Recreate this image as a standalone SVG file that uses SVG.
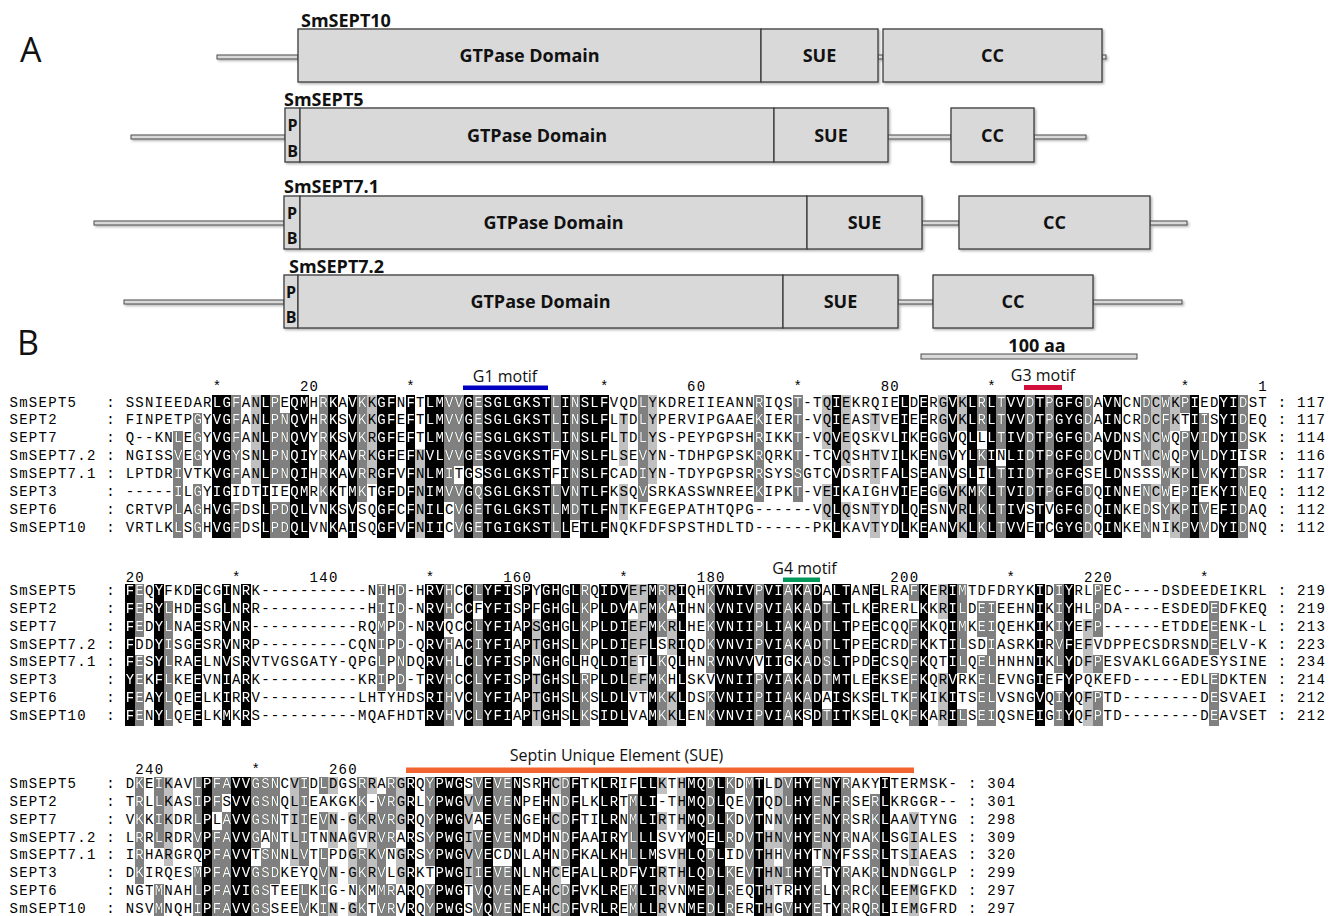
<svg xmlns="http://www.w3.org/2000/svg" xmlns:xlink="http://www.w3.org/1999/xlink" width="1334" height="916" viewBox="0 0 1334 916">
<style>
.seq{font-family:"Liberation Mono","Courier New",monospace;font-size:14px;letter-spacing:1.28px}
.hd{font-family:"Open Sans","Liberation Sans",sans-serif;font-weight:700;font-size:18px;fill:#111}
.pb{font-family:"Open Sans","Liberation Sans",sans-serif;font-weight:700;font-size:16px;fill:#111;text-anchor:middle}
.ctr{text-anchor:middle}
.box{fill:#d9d9d9;stroke:#3c3c3c;stroke-width:1.3}
.ln{fill:#d9d9d9;stroke:#4a4a4a;stroke-width:1}
.mot{font-family:"Open Sans","Liberation Sans",sans-serif;font-size:16px;fill:#111;text-anchor:middle}
.big{font-family:"Open Sans","Liberation Sans",sans-serif;font-size:34px;fill:#111}
.rul{fill:#000}
</style>
<defs>
<filter id="sh" x="-5%" y="-10%" width="110%" height="130%"><feDropShadow dx="1.5" dy="1.5" stdDeviation="0.8" flood-color="#000" flood-opacity="0.3"/></filter>
<g id="b1k" transform="translate(125 395) scale(9.68 17.86)" shape-rendering="crispEdges">
<rect x="9" y="0" width="2" height="8"/><rect x="14" y="0" width="1" height="8"/><rect x="17" y="0" width="2" height="8"/><rect x="21" y="0" width="1" height="8"/><rect x="23" y="0" width="1" height="8"/><rect x="26" y="0" width="2" height="8"/><rect x="29" y="0" width="1" height="8"/><rect x="31" y="0" width="2" height="8"/><rect x="35" y="0" width="1" height="8"/><rect x="37" y="0" width="7" height="8"/><rect x="45" y="0" width="1" height="8"/><rect x="47" y="0" width="3" height="8"/><rect x="73" y="0" width="1" height="8"/><rect x="80" y="0" width="1" height="8"/><rect x="82" y="0" width="1" height="8"/><rect x="85" y="0" width="1" height="8"/><rect x="87" y="0" width="1" height="8"/><rect x="89" y="0" width="1" height="8"/><rect x="91" y="0" width="2" height="8"/><rect x="94" y="0" width="1" height="8"/><rect x="96" y="0" width="3" height="8"/><rect x="101" y="0" width="2" height="8"/><rect x="110" y="0" width="1" height="8"/><rect x="113" y="0" width="2" height="8"/>
</g>
<g id="b1d" transform="translate(125 395) scale(9.68 17.86)" shape-rendering="crispEdges">
<rect x="5" y="2" width="1" height="6"/>
<rect x="7" y="1" width="1" height="3"/><rect x="7" y="5" width="1" height="3"/>
<rect x="11" y="0" width="1" height="5"/><rect x="11" y="6" width="1" height="2"/>
<rect x="15" y="0" width="1" height="5"/><rect x="15" y="6" width="1" height="2"/>
<rect x="16" y="1" width="1" height="4"/><rect x="16" y="6" width="1" height="2"/>
<rect x="20" y="0" width="1" height="6"/>
<rect x="24" y="0" width="1" height="6"/>
<rect x="33" y="0" width="1" height="6"/>
<rect x="34" y="0" width="1" height="4"/><rect x="34" y="5" width="1" height="3"/>
<rect x="36" y="0" width="1" height="4"/><rect x="36" y="5" width="1" height="3"/>
<rect x="44" y="0" width="1" height="3"/><rect x="44" y="5" width="1" height="3"/>
<rect x="46" y="0" width="1" height="7"/>
<rect x="53" y="0" width="1" height="6"/>
<rect x="65" y="0" width="1" height="6"/>
<rect x="69" y="0" width="1" height="6"/>
<rect x="88" y="0" width="1" height="2"/><rect x="88" y="3" width="1" height="1"/><rect x="88" y="5" width="1" height="3"/>
<rect x="90" y="0" width="1" height="3"/><rect x="90" y="4" width="1" height="4"/>
<rect x="93" y="0" width="1" height="6"/>
<rect x="95" y="0" width="1" height="6"/>
<rect x="99" y="0" width="1" height="4"/><rect x="99" y="5" width="1" height="3"/>
<rect x="105" y="0" width="1" height="4"/><rect x="105" y="5" width="1" height="3"/>
<rect x="107" y="0" width="1" height="7"/>
<rect x="109" y="0" width="1" height="1"/><rect x="109" y="2" width="1" height="6"/>
<rect x="111" y="1" width="1" height="4"/><rect x="111" y="6" width="1" height="2"/>
<rect x="115" y="0" width="1" height="3"/><rect x="115" y="4" width="1" height="4"/>
</g>
<g id="b1l" transform="translate(125 395) scale(9.68 17.86)" shape-rendering="crispEdges">
<rect x="13" y="0" width="1" height="5"/>
<rect x="25" y="0" width="1" height="5"/>
<rect x="30" y="3" width="1" height="5"/>
<rect x="51" y="1" width="1" height="3"/><rect x="51" y="5" width="1" height="2"/>
<rect x="54" y="0" width="1" height="5"/>
<rect x="72" y="0" width="1" height="3"/><rect x="72" y="5" width="1" height="2"/>
<rect x="74" y="0" width="1" height="4"/><rect x="74" y="6" width="1" height="1"/>
<rect x="77" y="1" width="1" height="1"/><rect x="77" y="3" width="1" height="2"/><rect x="77" y="6" width="1" height="2"/>
<rect x="84" y="0" width="1" height="4"/><rect x="84" y="5" width="1" height="1"/>
<rect x="86" y="0" width="1" height="2"/><rect x="86" y="5" width="1" height="3"/>
<rect x="106" y="0" width="1" height="4"/><rect x="106" y="5" width="1" height="1"/>
<rect x="108" y="0" width="1" height="2"/><rect x="108" y="4" width="1" height="1"/><rect x="108" y="6" width="1" height="2"/>
</g>
<g id="b2k" transform="translate(125 583.5) scale(9.68 17.86)" shape-rendering="crispEdges">
<rect x="0" y="0" width="1" height="8"/><rect x="3" y="0" width="1" height="8"/><rect x="7" y="0" width="1" height="8"/><rect x="10" y="0" width="1" height="8"/><rect x="12" y="0" width="1" height="8"/><rect x="31" y="0" width="2" height="8"/><rect x="35" y="0" width="1" height="8"/><rect x="37" y="0" width="3" height="8"/><rect x="41" y="0" width="1" height="8"/><rect x="43" y="0" width="2" height="8"/><rect x="46" y="0" width="1" height="8"/><rect x="49" y="0" width="3" height="8"/><rect x="54" y="0" width="1" height="8"/><rect x="57" y="0" width="1" height="8"/><rect x="61" y="0" width="4" height="8"/><rect x="66" y="0" width="2" height="8"/><rect x="69" y="0" width="1" height="8"/><rect x="71" y="0" width="1" height="8"/><rect x="73" y="0" width="2" height="8"/><rect x="77" y="0" width="1" height="8"/><rect x="82" y="0" width="1" height="8"/><rect x="85" y="0" width="1" height="8"/><rect x="94" y="0" width="1" height="8"/><rect x="97" y="0" width="1" height="8"/>
</g>
<g id="b2d" transform="translate(125 583.5) scale(9.68 17.86)" shape-rendering="crispEdges">
<rect x="1" y="0" width="1" height="3"/><rect x="1" y="4" width="1" height="4"/>
<rect x="4" y="1" width="1" height="7"/>
<rect x="26" y="0" width="1" height="6"/>
<rect x="28" y="0" width="1" height="6"/>
<rect x="33" y="0" width="1" height="2"/><rect x="33" y="3" width="1" height="5"/>
<rect x="36" y="0" width="1" height="1"/><rect x="36" y="2" width="1" height="6"/>
<rect x="47" y="0" width="1" height="4"/><rect x="47" y="5" width="1" height="3"/>
<rect x="55" y="0" width="1" height="3"/><rect x="55" y="4" width="1" height="4"/>
<rect x="60" y="0" width="1" height="5"/><rect x="60" y="6" width="1" height="2"/>
<rect x="65" y="0" width="1" height="4"/><rect x="65" y="5" width="1" height="3"/>
<rect x="68" y="0" width="1" height="4"/><rect x="68" y="5" width="1" height="3"/>
<rect x="70" y="0" width="1" height="7"/>
<rect x="72" y="1" width="1" height="5"/><rect x="72" y="7" width="1" height="1"/>
<rect x="81" y="0" width="1" height="1"/><rect x="81" y="2" width="1" height="6"/>
<rect x="86" y="0" width="1" height="5"/><rect x="86" y="7" width="1" height="1"/>
<rect x="88" y="1" width="1" height="2"/><rect x="88" y="4" width="1" height="4"/>
<rect x="89" y="1" width="1" height="7"/>
<rect x="96" y="0" width="1" height="5"/><rect x="96" y="6" width="1" height="2"/>
<rect x="100" y="0" width="1" height="3"/><rect x="100" y="4" width="1" height="1"/><rect x="100" y="6" width="1" height="2"/>
<rect x="112" y="1" width="1" height="3"/><rect x="112" y="5" width="1" height="3"/>
</g>
<g id="b2l" transform="translate(125 583.5) scale(9.68 17.86)" shape-rendering="crispEdges">
<rect x="42" y="2" width="1" height="2"/><rect x="42" y="5" width="1" height="3"/>
<rect x="52" y="0" width="1" height="1"/><rect x="52" y="2" width="1" height="4"/>
<rect x="53" y="0" width="1" height="4"/><rect x="53" y="5" width="1" height="1"/>
<rect x="56" y="0" width="1" height="1"/><rect x="56" y="2" width="1" height="2"/><rect x="56" y="6" width="1" height="2"/>
<rect x="84" y="0" width="1" height="2"/><rect x="84" y="5" width="1" height="3"/>
<rect x="99" y="2" width="1" height="3"/><rect x="99" y="6" width="1" height="2"/>
</g>
<g id="b3k" transform="translate(125 776.5) scale(9.68 17.86)" shape-rendering="crispEdges">
<rect x="8" y="0" width="1" height="8"/><rect x="11" y="0" width="2" height="8"/><rect x="29" y="0" width="1" height="8"/><rect x="32" y="0" width="3" height="8"/><rect x="37" y="0" width="1" height="8"/><rect x="40" y="0" width="1" height="8"/><rect x="43" y="0" width="1" height="8"/><rect x="46" y="0" width="1" height="8"/><rect x="49" y="0" width="2" height="8"/><rect x="53" y="0" width="2" height="8"/><rect x="58" y="0" width="2" height="8"/><rect x="61" y="0" width="1" height="8"/><rect x="65" y="0" width="1" height="8"/><rect x="69" y="0" width="2" height="8"/><rect x="73" y="0" width="1" height="8"/><rect x="78" y="0" width="1" height="8"/>
</g>
<g id="b3d" transform="translate(125 776.5) scale(9.68 17.86)" shape-rendering="crispEdges">
<rect x="1" y="0" width="1" height="6"/>
<rect x="3" y="0" width="1" height="4"/><rect x="3" y="6" width="1" height="2"/>
<rect x="7" y="0" width="1" height="4"/><rect x="7" y="5" width="1" height="3"/>
<rect x="9" y="0" width="1" height="2"/><rect x="9" y="3" width="1" height="5"/>
<rect x="10" y="0" width="1" height="1"/><rect x="10" y="2" width="1" height="6"/>
<rect x="13" y="0" width="1" height="4"/><rect x="13" y="5" width="1" height="3"/>
<rect x="14" y="0" width="1" height="3"/><rect x="14" y="4" width="1" height="4"/>
<rect x="15" y="0" width="1" height="6"/>
<rect x="18" y="0" width="1" height="5"/><rect x="18" y="6" width="1" height="2"/>
<rect x="20" y="0" width="1" height="1"/><rect x="20" y="2" width="1" height="1"/><rect x="20" y="4" width="1" height="4"/>
<rect x="24" y="0" width="1" height="3"/><rect x="24" y="4" width="1" height="4"/>
<rect x="26" y="1" width="1" height="7"/>
<rect x="27" y="0" width="1" height="4"/><rect x="27" y="6" width="1" height="2"/>
<rect x="31" y="0" width="1" height="5"/><rect x="31" y="6" width="1" height="2"/>
<rect x="36" y="0" width="1" height="2"/><rect x="36" y="3" width="1" height="5"/>
<rect x="38" y="0" width="2" height="4"/><rect x="38" y="5" width="2" height="3"/>
<rect x="45" y="0" width="1" height="5"/><rect x="45" y="6" width="1" height="2"/>
<rect x="52" y="1" width="1" height="4"/><rect x="52" y="6" width="1" height="2"/>
<rect x="60" y="0" width="1" height="3"/><rect x="60" y="4" width="1" height="4"/>
<rect x="62" y="0" width="1" height="1"/><rect x="62" y="2" width="1" height="2"/><rect x="62" y="5" width="1" height="3"/>
<rect x="64" y="0" width="1" height="6"/>
<rect x="68" y="0" width="1" height="6"/><rect x="68" y="7" width="1" height="1"/>
<rect x="71" y="0" width="1" height="4"/><rect x="71" y="5" width="1" height="3"/>
<rect x="74" y="0" width="1" height="4"/><rect x="74" y="5" width="1" height="3"/>
<rect x="77" y="1" width="1" height="7"/>
</g>
<g id="b3l" transform="translate(125 776.5) scale(9.68 17.86)" shape-rendering="crispEdges">
<rect x="4" y="0" width="1" height="5"/>
<rect x="17" y="0" width="1" height="5"/>
<rect x="21" y="0" width="1" height="1"/><rect x="21" y="2" width="1" height="2"/><rect x="21" y="5" width="1" height="1"/><rect x="21" y="7" width="1" height="1"/>
<rect x="23" y="2" width="1" height="4"/><rect x="23" y="7" width="1" height="1"/>
<rect x="25" y="0" width="1" height="1"/><rect x="25" y="2" width="1" height="4"/>
<rect x="28" y="0" width="1" height="3"/><rect x="28" y="4" width="1" height="2"/>
<rect x="35" y="1" width="1" height="5"/>
<rect x="44" y="0" width="1" height="1"/><rect x="44" y="2" width="1" height="1"/><rect x="44" y="5" width="1" height="3"/>
<rect x="55" y="0" width="1" height="1"/><rect x="55" y="2" width="1" height="1"/><rect x="55" y="5" width="1" height="3"/>
<rect x="57" y="0" width="1" height="3"/><rect x="57" y="4" width="1" height="2"/>
<rect x="66" y="3" width="1" height="5"/>
<rect x="67" y="0" width="1" height="4"/><rect x="67" y="5" width="1" height="1"/>
<rect x="72" y="0" width="1" height="5"/>
<rect x="81" y="2" width="1" height="3"/><rect x="81" y="6" width="1" height="2"/>
</g>
<mask id="wm" maskUnits="userSpaceOnUse" x="0" y="0" width="1334" height="916">
<use xlink:href="#b1k" href="#b1k" fill="#fff"/><use xlink:href="#b1d" href="#b1d" fill="#fff"/>
<use xlink:href="#b2k" href="#b2k" fill="#fff"/><use xlink:href="#b2d" href="#b2d" fill="#fff"/>
<use xlink:href="#b3k" href="#b3k" fill="#fff"/><use xlink:href="#b3d" href="#b3d" fill="#fff"/>
</mask>
<g id="seqtext" class="seq">
<text x="9.48" y="406.5">SmSEPT5</text><text x="106.28" y="406.5">: SSNIEEDARLGFANLPEQMHRKAVKKGFNFTLMVVGESGLGKSTLINSLFVQDLYKDREIIEANNRIQST-TQIEKRQIELDERGVKLRLTVVDTPGFGDAVNCNDCWKPIEDYIDST : 117</text>
<text x="9.48" y="424.36">SEPT2</text><text x="106.28" y="424.36">: FINPETPGYVGFANLPNQVHRKSVKKGFEFTLMVVGESGLGKSTLINSLFLTDLYPERVIPGAAEKIERT-VQIEASTVEIEERGVKLRLTVVDTPGYGDAINCRDCFKTIISYIDEQ : 117</text>
<text x="9.48" y="442.22">SEPT7</text><text x="106.28" y="442.22">: Q--KNLEGYVGFANLPNQVYRKSVKRGFEFTLMVVGESGLGKSTLINSLFLTDLYS-PEYPGPSHRIKKT-VQVEQSKVLIKEGGVQLLLTIVDTPGFGDAVDNSNCWQPVIDYIDSK : 114</text>
<text x="9.48" y="460.08">SmSEPT7.2</text><text x="106.28" y="460.08">: NGISSVEGYVGYSNLPNQIYRKAVRKGFEFNVLVVGESGVGKSTFVNSLFLSEVYN-TDHPGPSKRQRKT-TCVQSHTVILKENGVYLKINLIDTPGFGDCVDNTNCWQPVLDYIISR : 116</text>
<text x="9.48" y="477.94">SmSEPT7.1</text><text x="106.28" y="477.94">: LPTDRIVTKVGFANLPNQIHRKAVRRGFVFNLMITGSSGLGKSTFINSLFCADIYN-TDYPGPSRRSYSSGTCVDSRTFALSEANVSLILTIIDTPGFGSELDNSSSWKPLVKYIDSR : 117</text>
<text x="9.48" y="495.8">SEPT3</text><text x="106.28" y="495.8">: -----ILGYIGIDTIIEQMRKKTMKTGFDFNIMVVGQSGLGKSTLVNTLFKSQVSRKASSWNREEKIPKT-VEIKAIGHVIEEGGVKMKLTVIDTPGFGDQINNENCWEPIEKYINEQ : 112</text>
<text x="9.48" y="513.66">SEPT6</text><text x="106.28" y="513.66">: CRTVPLAGHVGFDSLPDQLVNKSVSQGFCFNILCVGETGLGKSTLMDTLFNTKFEGEPATHTQPG------VQLQSNTYDLQESNVRLKLTIVSTVGFGDQINKEDSYKPIVEFIDAQ : 112</text>
<text x="9.48" y="531.52">SmSEPT10</text><text x="106.28" y="531.52">: VRTLKLSGHVGFDSLPDQLVNKAISQGFVFNIICVGETGIGKSTLLETLFNQKFDFSPSTHDLTD------PKLKAVTYDLKEANVKLKLTVVETCGYGDQINKENNIKPVVDYIDNQ : 112</text>
<text x="9.48" y="595">SmSEPT5</text><text x="106.28" y="595">: FEQYFKDECGINRK-----------NIHD-HRVHCCLYFISPYGHGLRQIDVEFMRRIQHKVNIVPVIAKADALTANELRAFKERIMTDFDRYKIDIYRLPEC----DSDEEDEIKRL : 219</text>
<text x="9.48" y="612.86">SEPT2</text><text x="106.28" y="612.86">: FERYLHDESGLNRR-----------HIID-NRVHCCFYFISPFGHGLKPLDVAFMKAIHNKVNIVPVIAKADTLTLKERERLKKRILDEIEEHNIKIYHLPDA----ESDEDEDFKEQ : 219</text>
<text x="9.48" y="630.72">SEPT7</text><text x="106.28" y="630.72">: FEDYLNAESRVNR-----------RQMPD-NRVQCCLYFIAPSGHGLKPLDIEFMKRLHEKVNIIPLIAKADTLTPEECQQFKKQIMKEIQEHKIKIYEFP------ETDDEEENK-L : 213</text>
<text x="9.48" y="648.58">SmSEPT7.2</text><text x="106.28" y="648.58">: FDDYISGESRVNRP---------CQNIPD-QRVHACIYFIAPTGHSLKPLDIEFLSRIQDKVNVIPVIAKADTLTPEECRDFKKTILSDIASRKIRVFEFVDPPECSDRSNDEELV-K : 223</text>
<text x="9.48" y="666.44">SmSEPT7.1</text><text x="106.28" y="666.44">: FESYLRAELNVSRVTVGSGATY-QPGLPNDQRVHLCLYFISPNGHGLHQLDIETLKQLHNRVNVVVIIGKADSLTPDECSQFKQTILQELHNHNIKLYDFPESVAKLGGADESYSINE : 234</text>
<text x="9.48" y="684.3">SEPT3</text><text x="106.28" y="684.3">: YEKFLKEEVNIARK----------KRIPD-TRVHCCLYFISPTGHSLRPLDLEFMKHLSKVVNIIPVIAKADTMTLEEKSEFKQRVRKELEVNGIEFYPQKEFD-----EDLEDKTEN : 214</text>
<text x="9.48" y="702.16">SEPT6</text><text x="106.28" y="702.16">: FEAYLQEELKIRRV----------LHTYHDSRIHVCLYFIAPTGHSLKSLDLVTMKKLDSKVNIIPIIAKADAISKSELTKFKIKITSELVSNGVQIYQFPTD--------DESVAEI : 212</text>
<text x="9.48" y="720.02">SmSEPT10</text><text x="106.28" y="720.02">: FENYLQEELKMKRS----------MQAFHDTRVHVCLYFIAPTGHSLKSIDLVAMKKLENKVNVIPVIAKSDTITKSELQKFKARILSEIQSNEIGIYQFPTD--------DEAVSET : 212</text>
<text x="9.48" y="788">SmSEPT5</text><text x="106.28" y="788">: DKEIKAVLPFAVVGSNCVIDLDGSRRARGRQYPWGSVEVENSRHCDFTKLRIFLLKTHMQDLKDMTLDVHYENYRAKYITERMSK- : 304</text>
<text x="9.48" y="805.86">SEPT2</text><text x="106.28" y="805.86">: TRLLKASIPFSVVGSNQLIEAKGKK-VRGRLYPWGVVEVENPEHNDFLKLRTMLI-THMQDLQEVTQDLHYENFRSERLKRGGR-- : 301</text>
<text x="9.48" y="823.72">SEPT7</text><text x="106.28" y="823.72">: VKKIKDRLPLAVVGSNTIIEVN-GKRVRGRQYPWGVAEVENGEHCDFTILRNMLIRTHMQDLKDVTNNVHYENYRSRKLAAVTYNG : 298</text>
<text x="9.48" y="841.58">SmSEPT7.2</text><text x="106.28" y="841.58">: LRRLRDRVPFAVVGANTLITNNAGVRVRARSYPWGIVEVENMDHNDFAAIRYLLLSVYMQELRDVTHNVHYENYRNAKLSGIALES : 309</text>
<text x="9.48" y="859.44">SmSEPT7.1</text><text x="106.28" y="859.44">: IRHARGRQPFAVVTSNNLVTLPDGRKVNGRSYPWGVVECDNLAHNDFKALKHLLMSVHLQDLIDVTHHVHYTNYFSSRLTSIAEAS : 320</text>
<text x="9.48" y="877.3">SEPT3</text><text x="106.28" y="877.3">: DKIRQESMPFAVVGSDKEYQVN-GKRVLGRKTPWGIIEVENLNHCEFALLRDFVIRTHLQDLKEVTHNIHYETYRAKRLNDNGGLP : 299</text>
<text x="9.48" y="895.16">SEPT6</text><text x="106.28" y="895.16">: NGTMNAHLPFAVIGSTEELKIG-NKMMRARQYPWGTVQVENEAHCDFVKLREMLIRVNMEDLREQTHTRHYELYRRCKLEEMGFKD : 297</text>
<text x="9.48" y="913.02">SmSEPT10</text><text x="106.28" y="913.02">: NSVMNQHIPFAVVGSSEEVKIN-GKTVRVRQYPWGSVQVENENHCDFVRLREMLLRVNMEDLRERTHGVHYETYRRQRLIEMGFRD : 297</text>
</g>
</defs>
<rect x="0" y="0" width="1334" height="916" fill="#fff"/>

<text class="big" x="20" y="62">A</text>
<text class="big" x="17" y="355">B</text>

<g id="smsept10">
<text class="hd" x="301" y="27">SmSEPT10</text>
<g filter="url(#sh)">
<rect class="ln" x="217" y="55" width="81" height="4"/>
<rect class="ln" x="878" y="55" width="5" height="4"/>
<rect class="ln" x="1102" y="55" width="4" height="4"/>
<rect class="box" x="298" y="29" width="463" height="53"/>
<rect class="box" x="761" y="29" width="117" height="53"/>
<rect class="box" x="883" y="29" width="219" height="53"/>
</g>
<text class="hd ctr" x="529.5" y="62">GTPase Domain</text>
<text class="hd ctr" x="819.5" y="62">SUE</text>
<text class="hd ctr" x="992.5" y="62">CC</text>
</g>

<g id="smsept5">
<text class="hd" x="284" y="106">SmSEPT5</text>
<g filter="url(#sh)">
<rect class="ln" x="131" y="135" width="154" height="4"/>
<rect class="ln" x="888" y="135" width="63" height="4"/>
<rect class="ln" x="1034" y="135" width="52" height="4"/>
<rect class="box" x="285" y="108" width="15" height="54"/>
<rect class="box" x="300" y="108" width="474" height="54"/>
<rect class="box" x="774" y="108" width="114" height="54"/>
<rect class="box" x="951" y="108" width="83" height="54"/>
</g>
<text class="pb" x="292.5" y="131">P</text>
<text class="pb" x="292.5" y="157">B</text>
<text class="hd ctr" x="537" y="141.5">GTPase Domain</text>
<text class="hd ctr" x="831" y="141.5">SUE</text>
<text class="hd ctr" x="992.5" y="141.5">CC</text>
</g>

<g id="smsept71">
<text class="hd" x="284" y="193">SmSEPT7.1</text>
<g filter="url(#sh)">
<rect class="ln" x="94" y="221" width="190" height="4"/>
<rect class="ln" x="922" y="221" width="37" height="4"/>
<rect class="ln" x="1150" y="221" width="37" height="4"/>
<rect class="box" x="284" y="196" width="16" height="53"/>
<rect class="box" x="300" y="196" width="507" height="53"/>
<rect class="box" x="807" y="196" width="115" height="53"/>
<rect class="box" x="959" y="196" width="191" height="53"/>
</g>
<text class="pb" x="292" y="219">P</text>
<text class="pb" x="292" y="244">B</text>
<text class="hd ctr" x="553.5" y="229">GTPase Domain</text>
<text class="hd ctr" x="864.5" y="229">SUE</text>
<text class="hd ctr" x="1054.5" y="229">CC</text>
</g>

<g id="smsept72">
<text class="hd" x="289" y="273">SmSEPT7.2</text>
<g filter="url(#sh)">
<rect class="ln" x="124" y="300" width="160" height="4"/>
<rect class="ln" x="898" y="300" width="35" height="4"/>
<rect class="ln" x="1093" y="300" width="89" height="4"/>
<rect class="box" x="284" y="275" width="14" height="53"/>
<rect class="box" x="298" y="275" width="485" height="53"/>
<rect class="box" x="783" y="275" width="115" height="53"/>
<rect class="box" x="933" y="275" width="160" height="53"/>
</g>
<text class="pb" x="291" y="298">P</text>
<text class="pb" x="291" y="323">B</text>
<text class="hd ctr" x="540.5" y="308">GTPase Domain</text>
<text class="hd ctr" x="840.5" y="308">SUE</text>
<text class="hd ctr" x="1013" y="308">CC</text>
</g>

<g id="scalebar">
<text class="hd ctr" x="1037" y="352">100 aa</text>
<rect class="ln" x="921" y="354" width="216" height="5"/>
</g>

<use xlink:href="#b1l" href="#b1l" fill="#c0c0c0"/>
<use xlink:href="#b1d" href="#b1d" fill="#808080"/>
<use xlink:href="#b1k" href="#b1k" fill="#000"/>
<use xlink:href="#b2l" href="#b2l" fill="#c0c0c0"/>
<use xlink:href="#b2d" href="#b2d" fill="#808080"/>
<use xlink:href="#b2k" href="#b2k" fill="#000"/>
<use xlink:href="#b3l" href="#b3l" fill="#c0c0c0"/>
<use xlink:href="#b3d" href="#b3d" fill="#808080"/>
<use xlink:href="#b3k" href="#b3k" fill="#000"/>

<use xlink:href="#seqtext" href="#seqtext" fill="#000"/>
<use xlink:href="#seqtext" href="#seqtext" fill="#fff" mask="url(#wm)"/>

<g class="seq rul">
<text x="212.76" y="391">*</text><text x="299.88" y="391">20</text><text x="406.36" y="391">*</text><text x="599.96" y="391">*</text><text x="687.08" y="391">60</text><text x="793.56" y="391">*</text><text x="880.68" y="391">80</text><text x="987.16" y="391">*</text><text x="1180.76" y="391">*</text><text x="1258.2" y="391">1</text>
<text x="125.64" y="582">20</text><text x="232.12" y="582">*</text><text x="309.56" y="582">140</text><text x="425.72" y="582">*</text><text x="503.16" y="582">160</text><text x="619.32" y="582">*</text><text x="696.76" y="582">180</text><text x="890.36" y="582">200</text><text x="1006.52" y="582">*</text><text x="1083.96" y="582">220</text><text x="1200.12" y="582">*</text>
<text x="135.32" y="774">240</text><text x="251.48" y="774">*</text><text x="328.92" y="774">260</text>
</g>

<g id="g1motif">
<text class="mot" x="505" y="382">G1 motif</text>
<rect x="463" y="385.5" width="85" height="4.5" fill="#0000c0"/>
</g>
<g id="g3motif">
<text class="mot" x="1043" y="381">G3 motif</text>
<rect x="1024" y="385" width="38" height="5" fill="#d0103a"/>
</g>
<g id="g4motif">
<text class="mot" x="804.5" y="574">G4 motif</text>
<rect x="783" y="577.5" width="37" height="4.5" fill="#00965a"/>
</g>
<g id="suemotif">
<text class="mot" x="616.5" y="761">Septin Unique Element (SUE)</text>
<rect x="406" y="767.5" width="508" height="5.5" fill="#f26430"/>
</g>
</svg>
